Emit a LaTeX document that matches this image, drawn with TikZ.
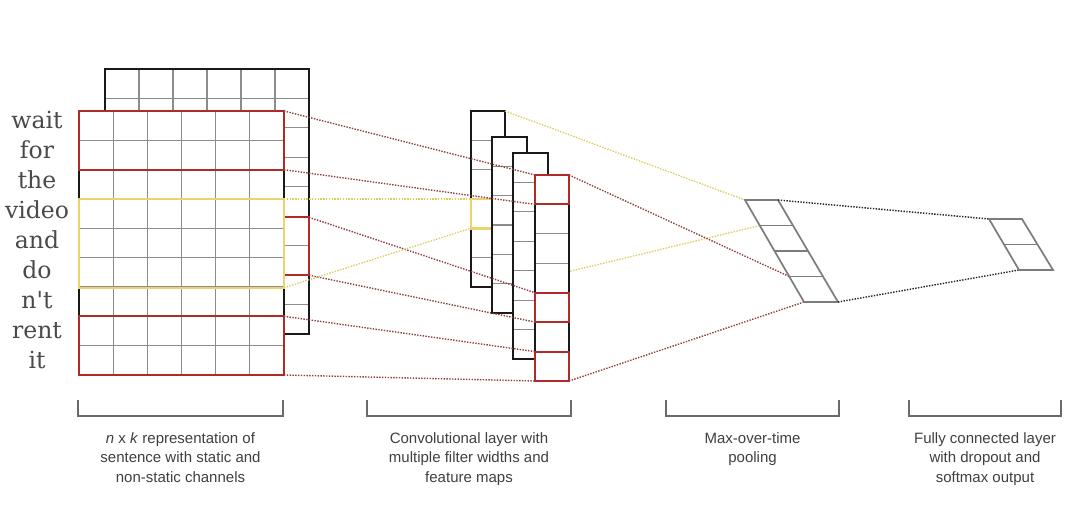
\documentclass[tikz,border=0pt]{standalone}
\usepackage{fontspec}
\setmainfont{Liberation Sans}
\newfontfamily\wordfont{DejaVu Serif}
\usetikzlibrary{calc}

\definecolor{gridgray}{HTML}{8C8C8C}
\definecolor{boxred}{HTML}{B02A2A}
\definecolor{linkred}{HTML}{8E3F3F}
\definecolor{boxyellow}{HTML}{ECD36C}
\definecolor{linkyellow}{HTML}{DCCC58}
\definecolor{captiongray}{HTML}{404040}
\definecolor{wordgray}{HTML}{4A4A4A}
\definecolor{poolgray}{HTML}{7C7C7C}
\definecolor{bracketgray}{HTML}{6A6A6A}

\tikzset{
  cellgrid/.style={draw=gridgray, line width=1.2pt},
  outline/.style={draw=black!90, line width=1.5pt},
  redbox/.style={draw=boxred, line width=2.2pt},
  yellowbox/.style={draw=boxyellow, line width=2.4pt},
  redlink/.style={draw=linkred, line width=1.4pt, dash pattern=on 1.4pt off 1.4pt},
  yellowlink/.style={draw=linkyellow, line width=1.3pt, dash pattern=on 1.4pt off 1.4pt},
  blacklink/.style={draw=black!85, line width=1.4pt, dash pattern=on 1.4pt off 1.4pt},
  layer/.style={draw=poolgray, line width=1.7pt, line join=miter},
  bracket/.style={draw=bracketgray, line width=1.2pt},
  caption/.style={font=\fontsize{15}{19.3}\selectfont, text=captiongray, align=center, anchor=north, inner sep=0pt},
  word/.style={font=\wordfont\fontsize{23.5}{23.5}\selectfont, text=wordgray, anchor=base, inner sep=0pt}
}

% grid block: x0, y0, x1, y1, columns, rows
\newcommand\gridblock[6]{%
  \fill[white] (#1,#2) rectangle (#3,#4);
  \foreach \i in {1,...,#5}
    \draw[cellgrid] ({#1+(#3-#1)*\i/#5},#2) -- ({#1+(#3-#1)*\i/#5},#4);
  \foreach \j in {1,...,#6}
    \draw[cellgrid] (#1,{#2+(#4-#2)*\j/#6}) -- (#3,{#2+(#4-#2)*\j/#6});
  \draw[outline] (#1,#2) rectangle (#3,#4);
}

\begin{document}
\begin{tikzpicture}[x=1pt, y=-1pt]
\useasboundingbox (0,0) rectangle (1081,513);
\fill[white] (0,0) rectangle (1081,513);

% ---- sentence words ----
\foreach \w [count=\k from 0] in {wait,for,the,video,and,do,n't,rent,it}
  \node[word] (w\k) at (37,{129+29.9*\k}) {\w};

% ---- input matrix: static channel (back) ----
\gridblock{105}{69}{309}{334}{6}{9}
\draw[redbox] (105,217.3) rectangle (309,275.2);

% ---- input matrix: non-static channel (front) ----
\gridblock{79}{111}{284}{375}{6}{9}
\draw[redbox] (79,111) rectangle (284,169.7);
\draw[redbox] (79,316.3) rectangle (284,375);
\draw[yellowbox] (79,199) rectangle (284,287.7);

% corner points of the highlighted regions
\coordinate (fa1) at (284,111);
\coordinate (fa2) at (284,169.7);
\coordinate (fy1) at (284,199);
\coordinate (fy2) at (284,287.7);
\coordinate (fb1) at (284,316.3);
\coordinate (fb2) at (284,375);
\coordinate (ba1) at (309,217.3);
\coordinate (ba2) at (309,275.2);

% ---- pooling and output layers: corner points ----
\coordinate (pTL) at (745,200);
\coordinate (pTR) at (778,200);
\coordinate (pBL) at (804,302);
\coordinate (pBR) at (838,302);
\coordinate (oTL) at (989,219);
\coordinate (oTR) at (1022,219);
\coordinate (oBL) at (1019,270);
\coordinate (oBR) at (1053,270);

% ---- feature maps ----
\coordinate (m1TR) at (505,111);
\coordinate (m1BR) at (505,287);
\coordinate (m1y1) at (471,199);
\coordinate (m1y2) at (471,228.3);

% link from the first map's lower corner runs behind the later maps
\draw[yellowlink] (m1BR) -- ($(pTL)!0.25!(pBL)$);

\gridblock{471}{111}{505}{287}{1}{6}
\draw[yellowbox] (m1y1) rectangle (505,228.3);
\gridblock{492}{137}{527}{313}{1}{6}
\gridblock{513}{153}{548}{359}{1}{7}
\gridblock{535}{175}{569}{381}{1}{7}
\draw[redbox] (535,175) rectangle (569,204.4);
\draw[redbox] (535,292.7) rectangle (569,322.1);
\draw[redbox] (535,351.6) rectangle (569,381);

\coordinate (m4a1) at (535,175);
\coordinate (m4a2) at (535,204.4);
\coordinate (m4b1) at (535,292.7);
\coordinate (m4b2) at (535,322.1);
\coordinate (m4c1) at (535,351.6);
\coordinate (m4c2) at (535,381);
\coordinate (m4TR) at (569,175);
\coordinate (m4BR) at (569,381);

% ---- filters to feature maps ----
\draw[redlink] (fa1) -- (m4a1);
\draw[redlink] (fa2) -- (m4a2);
\draw[redlink] (ba1) -- (m4b1);
\draw[redlink] (ba2) -- (m4b2);
\draw[redlink] (fb1) -- (m4c1);
\draw[redlink] (fb2) -- (m4c2);
\draw[yellowlink] (fy1) -- (m1y1);
\draw[yellowlink] (fy2) -- (m1y2);

% ---- feature maps to pooling ----
\draw[yellowlink] (m1TR) -- (pTL);
\draw[redlink] (m4TR) -- ($(pTL)!0.75!(pBL)$);
\draw[redlink] (m4BR) -- (pBL);

% ---- max-over-time pooling layer ----
\draw[layer] (pTL) -- (pTR) -- (pBR) -- (pBL) -- cycle;
\foreach \f in {0.25,0.5,0.75}
  \draw[layer] ($(pTL)!\f!(pBL)$) -- ($(pTR)!\f!(pBR)$);

% ---- fully connected output ----
\draw[blacklink] (pTR) -- (oTL);
\draw[blacklink] (pBR) -- (oBL);
\draw[layer] (oTL) -- (oTR) -- (oBR) -- (oBL) -- cycle;
\draw[layer] ($(oTL)!0.5!(oBL)$) -- ($(oTR)!0.5!(oBR)$);

% ---- brackets and captions ----
\draw[bracket] (78,400) -- (78,416) -- (283,416) -- (283,400);
\draw[bracket] (367,400) -- (367,416) -- (571,416) -- (571,400);
\draw[bracket] (666,400) -- (666,416) -- (839,416) -- (839,400);
\draw[bracket] (909,400) -- (909,416) -- (1061,416) -- (1061,400);

\node[caption] (c1) at (180.5,432.5) {\textit{n} x \textit{k} representation of\\sentence with static and\\non-static channels};
\node[caption] (c2) at (469,432.5) {Convolutional layer with\\multiple filter widths and\\feature maps};
\node[caption] (c3) at (752.5,432.5) {Max-over-time\\pooling};
\node[caption] (c4) at (985,432.5) {Fully connected layer\\with dropout and\\softmax output};
\end{tikzpicture}
\end{document}
